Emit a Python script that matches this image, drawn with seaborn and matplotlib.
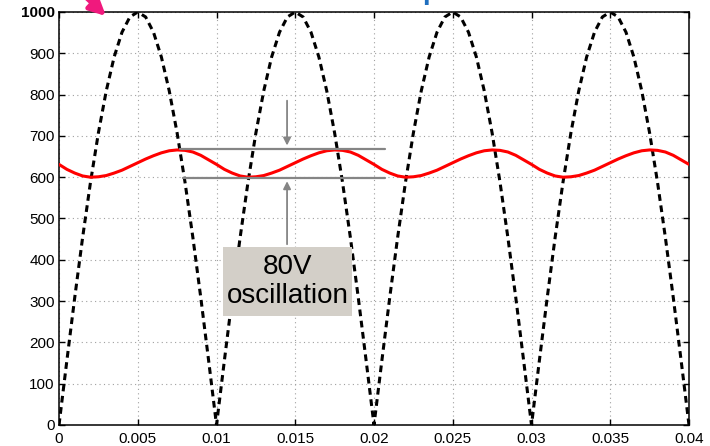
import numpy as np
import pandas as pd
import matplotlib
matplotlib.use("Agg")
import matplotlib.pyplot as plt
import seaborn as sns
from matplotlib.patches import Rectangle

# ---------------- data ----------------
time_s = np.round(np.arange(81) * 0.0005, 4)

rectified = [0, 156, 309, 454, 588, 707, 809, 891, 951, 988, 1000, 988, 951, 891, 809, 707, 588, 454, 309, 156,
             0, 156, 309, 454, 588, 707, 809, 891, 951, 988, 1000, 988, 951, 891, 809, 707, 588, 454, 309, 156,
             0, 156, 309, 454, 588, 707, 809, 891, 951, 988, 1000, 988, 951, 891, 809, 707, 588, 454, 309, 156,
             0, 156, 309, 454, 588, 707, 809, 891, 951, 988, 1000, 988, 951, 891, 809, 707, 588, 454, 309, 156,
             0]

filtered = [631, 619, 610, 603, 600, 601, 604, 610, 617, 626, 635, 644, 652, 659, 664, 666, 665, 661, 653, 642,
            631, 619, 610, 603, 600, 601, 604, 610, 617, 626, 635, 644, 652, 659, 664, 666, 665, 661, 653, 642,
            631, 619, 610, 603, 600, 601, 604, 610, 617, 626, 635, 644, 652, 659, 664, 666, 665, 661, 653, 642,
            631, 619, 610, 603, 600, 601, 604, 610, 617, 626, 635, 644, 652, 659, 664, 666, 665, 661, 653, 642,
            631]

x_ticks = [0, 0.005, 0.01, 0.015, 0.02, 0.025, 0.03, 0.035, 0.04]
x_tick_labels = ["0", "0.005", "0.01", "0.015", "0.02", "0.025", "0.03", "0.035", "0.04"]
y_ticks = [0, 100, 200, 300, 400, 500, 600, 700, 800, 900, 1000]
y_tick_labels = ["0", "100", "200", "300", "400", "500", "600", "700", "800", "900", "1000"]

ripple_top = 668
ripple_bottom = 599
box_text = "80V\noscillation"

# ---------------- plot ----------------
sns.set_theme(style="ticks")
plt.rcParams["font.family"] = ["Liberation Sans", "DejaVu Sans"]

df = pd.DataFrame({"t": time_s, "rect": rectified, "filt": filtered})

fig = plt.figure(figsize=(7.1, 4.46), dpi=100)
ax = fig.add_axes([59 / 710, 21 / 446, 630 / 710, 413 / 446])

ax.grid(True, linestyle=(0, (1, 3)), color="#a0a0a0", linewidth=0.8)
ax.set_axisbelow(True)

sns.lineplot(data=df, x="t", y="rect", ax=ax, color="black", linewidth=2.2,
             linestyle=(0, (2.2, 1.5)), zorder=3)
sns.lineplot(data=df, x="t", y="filt", ax=ax, color="#ff0000", linewidth=2.2, zorder=4)

ax.set_xlim(0, 0.04)
ax.set_ylim(0, 1000)
ax.set_xticks(x_ticks)
ax.set_xticklabels(x_tick_labels)
ax.set_yticks(y_ticks)
ax.set_yticklabels(y_tick_labels)
for lbl in ax.get_yticklabels():
    if lbl.get_text() == "1000":
        lbl.set_fontweight("bold")
ax.set_xlabel("")
ax.set_ylabel("")
ax.tick_params(direction="in", length=4, width=1, top=True, right=True,
               labelsize=11, colors="black")
ax.tick_params(axis="x", pad=5)
ax.tick_params(axis="y", pad=3)
for s in ax.spines.values():
    s.set_visible(True)
    s.set_color("black")
    s.set_linewidth(1.1)

# ripple marker lines
gray = "#858585"
ax.plot([0.0077, 0.0207], [ripple_top, ripple_top], color=gray, lw=1.6, zorder=5)
ax.plot([0.0079, 0.0207], [ripple_bottom, ripple_bottom], color=gray, lw=1.6, zorder=5)
ax.annotate("", xy=(0.01448, ripple_top + 2), xytext=(0.01448, 792),
            arrowprops=dict(arrowstyle="-|>", color=gray, lw=1.3, mutation_scale=11), zorder=6)
ax.annotate("", xy=(0.01448, ripple_bottom - 2), xytext=(0.01448, 431),
            arrowprops=dict(arrowstyle="-|>", color=gray, lw=1.3, mutation_scale=11), zorder=6)

# text box
ax.add_patch(Rectangle((0.01041, 264), 0.0186 - 0.01041, 431 - 264,
                       facecolor="#d3cfc8", edgecolor="none", zorder=7))
ax.text(0.01451, 348, box_text, ha="center", va="center", fontsize=20,
        color="black", linespacing=1.15, zorder=8)

# clipped decorations at top of figure
ax.annotate("", xy=(106 / 710, 1 - 16 / 446), xycoords="figure fraction",
            xytext=(62 / 710, 1 + 25 / 446), textcoords="figure fraction",
            arrowprops=dict(arrowstyle="-|>", color="#f0197d", lw=3.5, mutation_scale=24,
                            shrinkA=0, shrinkB=0),
            annotation_clip=False, zorder=20)
fig.text(431 / 710, 1 - 5 / 446, "p", color="#1f6fbf", fontsize=20, fontweight="bold",
         ha="center", va="bottom")

fig.savefig("out.png", dpi=100)
